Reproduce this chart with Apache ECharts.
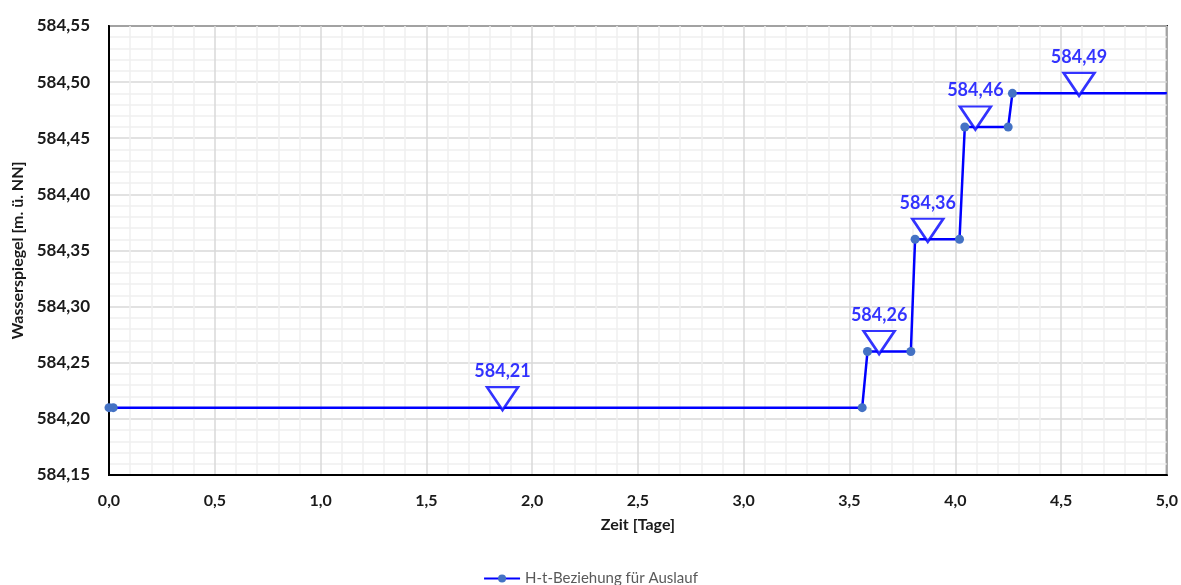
<!DOCTYPE html>
<html>
<head>
<meta charset="utf-8">
<script src="https://cdn.jsdelivr.net/npm/echarts@6/dist/echarts.min.js"></script>
<style>html,body{margin:0;padding:0;background:#fff;}#c{width:1181px;height:585px;}</style>
</head>
<body>
<div id="c"></div>
<script>
const seriesName = 'H-t-Beziehung für Auslauf';
const timeDays = [0, 0.02, 3.56, 3.585, 3.79, 3.81, 4.02, 4.045, 4.25, 4.27, 5.0];
const waterLevel = [584.21, 584.21, 584.21, 584.26, 584.26, 584.36, 584.36, 584.46, 584.46, 584.49, 584.49];
const markTime = [1.86, 3.64, 3.87, 4.095, 4.585];
const markLevel = [584.21, 584.26, 584.36, 584.46, 584.49];

const fmt = v => v.toFixed(2).replace('.', ',');
const font = 'Lato, "Open Sans", sans-serif';

const lineData = timeDays.map((t, i) => {
  const item = { value: [t, waterLevel[i]] };
  if (i === timeDays.length - 1) item.symbol = 'none';
  return item;
});
const markData = markTime.map((t, i) => [t, markLevel[i]]);

const chart = echarts.init(document.getElementById('c'));
chart.setOption({
  animation: false,
  textStyle: { fontFamily: font },
  grid: { left: 109, right: 13, top: 26, bottom: 110, show: true, borderColor: '#000', borderWidth: 2, backgroundColor: 'transparent', containLabel: false },
  legend: {
    data: [seriesName],
    bottom: -6,
    left: 'center',
    itemWidth: 36,
    itemHeight: 10,
    textStyle: { color: '#595959', fontSize: 15, fontFamily: font }
  },
  xAxis: {
    type: 'value', min: 0, max: 5, interval: 0.5,
    name: 'Zeit [Tage]', nameLocation: 'middle', nameGap: 42,
    nameTextStyle: { fontWeight: 'bold', fontSize: 16, color: '#1a1a1a', fontFamily: font },
    axisLine: { show: true, lineStyle: { color: '#000', width: 2 } },
    axisTick: { show: false },
    axisLabel: { fontWeight: 'bold', fontSize: 16, color: '#1a1a1a', margin: 18, formatter: v => v.toFixed(1).replace('.', ',') },
    splitLine: { show: true, lineStyle: { color: '#d9d9d9', width: 1.5 } },
    minorTick: { show: false, splitNumber: 5 },
    minorSplitLine: { show: true, lineStyle: { color: '#f0f0f0', width: 1.5 } }
  },
  yAxis: {
    type: 'value', min: 584.15, max: 584.55, interval: 0.05,
    name: 'Wasserspiegel [m. ü. NN]', nameLocation: 'middle', nameGap: 82,
    nameTextStyle: { fontWeight: 'bold', fontSize: 16, color: '#1a1a1a', fontFamily: font },
    axisLine: { show: true, lineStyle: { color: '#000', width: 2 } },
    axisTick: { show: false },
    axisLabel: { fontWeight: 'bold', fontSize: 17, color: '#1a1a1a', margin: 19, formatter: v => fmt(v) },
    splitLine: { show: true, lineStyle: { color: '#d9d9d9', width: 1.5 } },
    minorTick: { show: false, splitNumber: 5 },
    minorSplitLine: { show: true, lineStyle: { color: '#f0f0f0', width: 1.5 } }
  },
  series: [
    {
      name: seriesName,
      type: 'line',
      data: lineData,
      symbol: 'circle',
      symbolSize: 9,
      showAllSymbol: true,
      lineStyle: { color: '#0000ff', width: 2.5 },
      itemStyle: { color: '#4472c4' },
      z: 3
    },
    {
      name: 'marks',
      type: 'scatter',
      data: markData,
      symbol: 'path://M0,0L30,0L15,22Z',
      symbolSize: [31, 23],
      symbolOffset: [0, -9],
      itemStyle: { color: '#ffffff', borderColor: '#0000ff', borderWidth: 2.5 },
      label: {
        show: true, position: 'top', distance: 6,
        color: '#0000ff', fontWeight: 'bold', fontSize: 18, fontFamily: font,
        formatter: p => fmt(p.value[1])
      },
      z: 4
    }
  ]
});
</script>
</body>
</html>
